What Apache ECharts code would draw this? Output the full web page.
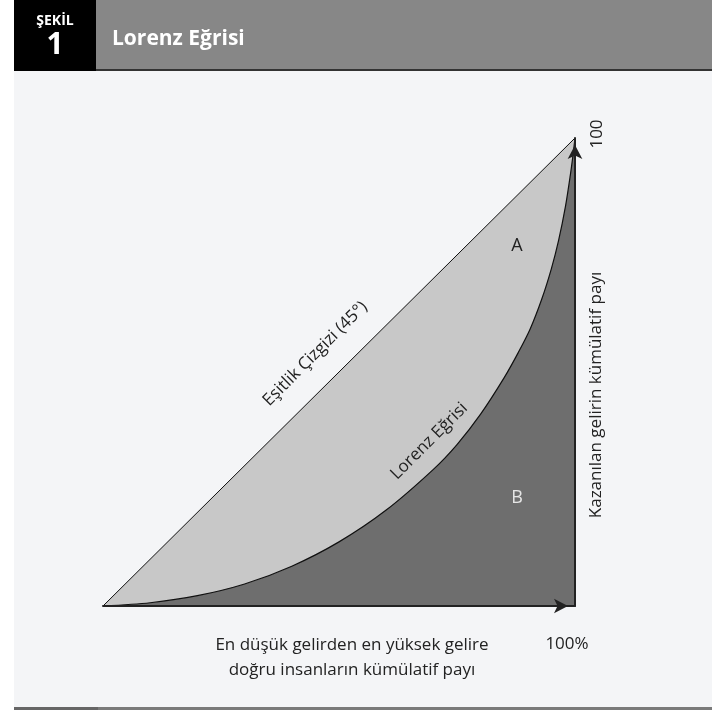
<!DOCTYPE html>
<html><head><meta charset="utf-8">
<script src="https://cdn.jsdelivr.net/npm/echarts@6/dist/echarts.min.js"></script>
<style>html,body{margin:0;padding:0;background:#fff}#c{width:712px;height:710px}</style>
</head><body><div id="c"></div>
<script>
// Data (percent of people, percent of income)
const lorenzX = [0, 10, 20, 30, 40, 50, 60, 70, 75, 80, 85, 88, 90.5, 93, 95, 96.5, 98, 99, 99.6, 100];
const lorenzY = [0, 0.7, 2.2, 4.7, 8.5, 13.7, 20.5, 29.2, 34.5, 41, 48.8, 54.2, 59.2, 65.7, 72.1, 78, 85.5, 92, 96.5, 100];
const equalityX = [0, 100];
const equalityY = [0, 100];
const xTickLabels = ['', '100%'];
const yTickLabels = ['', '100'];
const headerTag = 'ŞEKİL';
const headerNum = '1';
const title = 'Lorenz Eğrisi';
const xName = 'En düşük gelirden en yüksek gelire\ndoğru insanların kümülatif payı';
const yName = 'Kazanılan gelirin kümülatif payı';
const equalityLabel = 'Eşitlik Çizgizi (45°)';
const lorenzLabel = 'Lorenz Eğrisi';
const regionLabels = ['A', 'B'];

const FONT = '"Open Sans", Lato, sans-serif';
const chart = echarts.init(document.getElementById('c'), null, {renderer: 'canvas'});
const pair = (xs, ys) => xs.map((x, i) => [x, ys[i]]);
const axisLine = {show: true, onZero: false, symbol: ['none', 'arrow'], symbolSize: [11, 14], symbolOffset: [0, -7], lineStyle: {color: '#222', width: 2}};

chart.setOption({
  animation: false,
  backgroundColor: '#ffffff',
  grid: {left: 103, right: 137, top: 138, bottom: 104},
  xAxis: {
    type: 'value', min: 0, max: 100, interval: 100, z: 10,
    axisLine: axisLine, axisTick: {show: false}, splitLine: {show: false},
    axisLabel: {show: false}
  },
  yAxis: {
    type: 'value', min: 0, max: 100, interval: 100, position: 'right', z: 10,
    axisLine: axisLine, axisTick: {show: false}, splitLine: {show: false},
    axisLabel: {show: false}
  },
  series: [
    {type: 'line', data: pair(equalityX, equalityY), symbol: 'none', z: 2,
      lineStyle: {color: '#111', width: 1}, areaStyle: {color: '#c8c8c8', opacity: 1}},
    {type: 'line', data: pair(lorenzX, lorenzY), symbol: 'none', z: 3, smooth: 0.3,
      lineStyle: {color: '#111', width: 1.2}, areaStyle: {color: '#6e6e6e', opacity: 1}}
  ]
});

function px(x, y) { return chart.convertToPixel({gridIndex: 0}, [x, y]); }
const rot = Math.PI / 4;
const pEq = px(49.4, 49.4);
const pLz = px(72.5, 31.8);
const pA = px(87.7, 76.9);
const pB = px(87.7, 23.1);
const pTop = px(100, 100);
const pRight = px(100, 0);
const pMidY = px(100, 50);
const pMidX = px(50, 0);
const T = (x, y, text, font, fill, extra, align) => Object.assign({type: 'text', x: x, y: y, z: 20,
  style: {text: text, fill: fill, font: font, textAlign: align || 'center', textVerticalAlign: 'middle', lineHeight: 25}}, extra || {});

chart.setOption({
  graphic: [
    {type: 'rect', shape: {x: 14, y: 71, width: 698, height: 636}, style: {fill: '#f4f5f7'}, z: -10, silent: true},
    {type: 'rect', shape: {x: 96, y: 0, width: 616, height: 70}, style: {fill: '#878787'}, z: 10},
    {type: 'rect', shape: {x: 14, y: 0, width: 82, height: 71}, style: {fill: '#000'}, z: 11},
    {type: 'rect', shape: {x: 96, y: 69, width: 616, height: 2}, style: {fill: '#333'}, z: 11},
    {type: 'rect', shape: {x: 14, y: 707, width: 698, height: 3}, style: {fill: '#7a7a7a'}, z: 10},
    {type: 'rect', shape: {x: 14, y: 707, width: 84, height: 3}, style: {fill: '#666'}, z: 11},
    T(55, 21, headerTag, 'bold 14px ' + FONT, '#fff'),
    T(55, 45, headerNum, 'bold 30px ' + FONT, '#fff'),
    T(112, 39, title, 'bold 21px ' + FONT, '#fff', null, 'left'),
    T(pEq[0] - 21, pEq[1] - 21, equalityLabel, '17px ' + FONT, '#222', {rotation: rot}),
    T(pLz[0] - 16, pLz[1] - 16, lorenzLabel, '17px ' + FONT, '#222', {rotation: rot}),
    T(pA[0], pA[1], regionLabels[0], '18px ' + FONT, '#222'),
    T(pB[0], pB[1], regionLabels[1], '18px ' + FONT, '#e6e6e6'),
    T(pTop[0] + 22, pTop[1] - 4, yTickLabels[1], '17px ' + FONT, '#222', {rotation: Math.PI / 2}),
    T(pRight[0] - 8, pRight[1] + 38, xTickLabels[1], '17px ' + FONT, '#222'),
    T(pMidX[0] + 13, pMidX[1] + 52, xName, '17px ' + FONT, '#222'),
    T(pMidY[0] + 21, pMidY[1] + 23, yName, '17px ' + FONT, '#222', {rotation: Math.PI / 2})
  ]
});
</script>
</body></html>
